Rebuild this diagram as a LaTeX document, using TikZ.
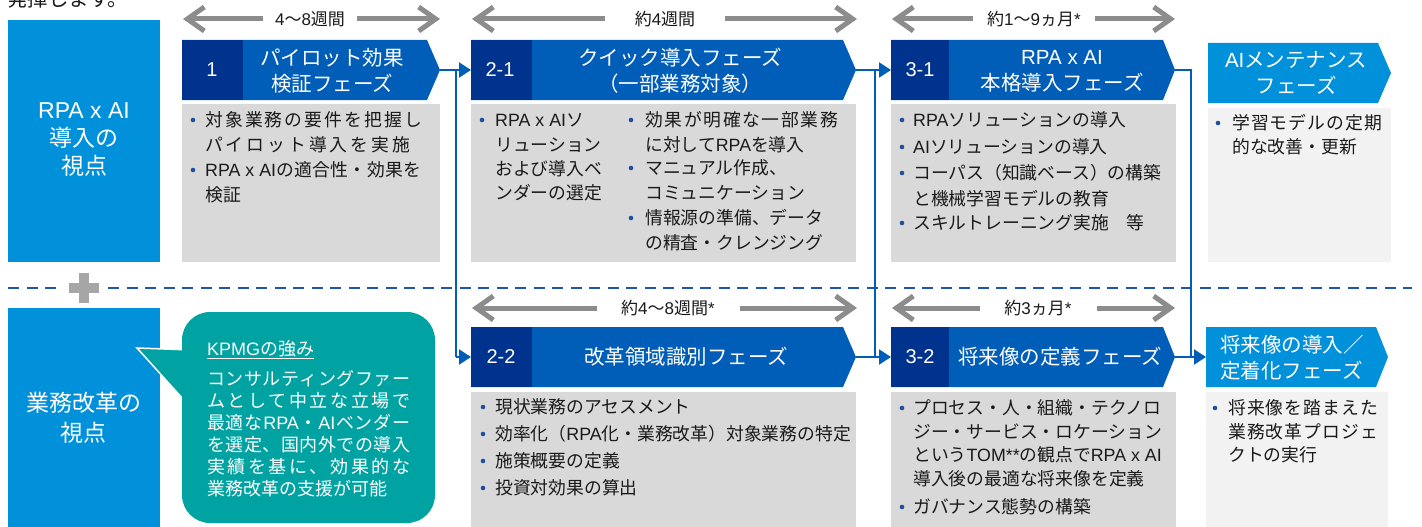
\documentclass[tikz,border=0pt]{standalone}
\usepackage{fontspec}
\setmainfont{Noto Sans CJK JP}
\newfontfamily\lat{Liberation Sans}
\newcommand\lnt[1]{{\lat #1}}
\usetikzlibrary{arrows.meta}
\definecolor{cnavy}{HTML}{00338D}
\definecolor{cblue}{HTML}{005EB8}
\definecolor{clight}{HTML}{0091DA}
\definecolor{cteal}{HTML}{00A3A1}
\definecolor{cbody}{HTML}{D9D9D9}
\definecolor{cbodyl}{HTML}{F2F2F2}
\definecolor{cdur}{HTML}{8C8C8C}
\definecolor{ctxt}{HTML}{1A1A1A}
\definecolor{cbul}{HTML}{1F4E9A}
\definecolor{cdash}{HTML}{1F56A8}
\definecolor{cplus}{HTML}{A6A6A6}
\def\sprB#1#2{#1\ifx\relax#2\else\hfil\expandafter\sprB\fi{#2}}
\newcommand\spr[2]{\makebox[#1][s]{\sprB#2\relax}}
\tikzset{
  hdrtxt/.style={text=white, align=center, inner sep=0pt, font=\fontsize{20.5}{26}\selectfont},
  numtxt/.style={text=white, inner sep=0pt, font=\fontsize{20}{24}\selectfont\lat},
  sidetxt/.style={text=white, align=center, inner sep=0pt, font=\fontsize{23}{#1}\selectfont},
  sidetxt/.default=28,
  btxt/.style={anchor=north west, text=ctxt, align=left, inner sep=0pt, font=\fontsize{17.8}{#1}\selectfont},
  btxt/.default=24.5,
  ktxt/.style={anchor=north west, text=white, align=left, inner sep=0pt, font=\fontsize{18}{22}\selectfont},
  conn/.style={draw=cblue, line width=2.2pt},
  conntip/.style={conn, -{Triangle[length=12pt,width=15pt]}},
  dur/.style={draw=cdur, line width=5pt, {Straight Barb[length=17pt,width=24pt]}-{Straight Barb[length=17pt,width=24pt]}},
  durlbl/.style={fill=white, text=ctxt, inner sep=0pt, minimum height=14pt, font=\fontsize{17}{20}\selectfont},
  dsh/.style={draw=cdash, line width=2.6pt, dash pattern=on 11pt off 7.5pt},
}
\newcommand\bitem[6][24.5]{%
  \node[btxt=#1] (#2) at (#4,{#5-9.3}) {\rule{0pt}{16pt}#6};
  \fill[cbul] (#3,#5) circle (2.3pt);}
\newcommand\chev[6]{\fill[#6] (#1,#4) -- (#2,#4) -- (#3,{(#4+#5)/2}) -- (#2,#5) -- (#1,#5) -- cycle;}
\begin{document}
\begin{tikzpicture}[x=1pt,y=-1pt]
\useasboundingbox (0,0) rectangle (1422,527);
\begin{scope}
\clip (0,0) rectangle (1422,527);
\node[anchor=base west, inner sep=0pt, text=ctxt, font=\fontsize{20.5}{24}\selectfont] (toptxt) at (7,6.5) {発揮します。};
\end{scope}

% side boxes
\fill[clight] (8,20) rectangle (160,262);
\node[sidetxt] (s1) at (84,140) {\lnt{RPA x AI}\\導入の\\視点};
\fill[clight] (8,308) rectangle (160,527);
\node[sidetxt=30] (s2) at (84,418) {業務改革の\\視点};

% dashed separator and plus
\draw[dsh] (8,288) -- (58,288);
\draw[dsh] (108,288) -- (1412,288);
\fill[cplus] (79,273) rectangle (89,303);
\fill[cplus] (69,283) rectangle (99,293);

% duration arrows
\draw[dur] (183,19) -- (440,19);
\node[durlbl, minimum width=94pt] (d1) at (310,19) {\lnt{4}〜\lnt{8}週間};
\draw[dur] (472,19) -- (857,19);
\node[durlbl, minimum width=120pt] (d2) at (665,19) {約\lnt{4}週間};
\draw[dur] (892,19) -- (1175,19);
\node[durlbl, minimum width=122pt] (d3) at (1034,19) {約\lnt{1}〜\lnt{9}ヵ月\lnt{*}};
\draw[dur] (472,308) -- (857,308);
\node[durlbl, minimum width=143pt] (d4) at (668,308) {約\lnt{4}〜\lnt{8}週間\lnt{*}};
\draw[dur] (892,308) -- (1175,308);
\node[durlbl, minimum width=117pt] (d5) at (1038,308) {約\lnt{3}ヵ月\lnt{*}};

% bodies
\fill[cbody] (182,104) rectangle (440,262);
\fill[cbody] (471,104) rectangle (856,262);
\fill[cbody] (891,104) rectangle (1176,262);
\fill[cbodyl] (1208,108) rectangle (1391,262);
\fill[cbody] (471,392) rectangle (856,527);
\fill[cbody] (891,392) rectangle (1176,527);
\fill[cbodyl] (1206,392) rectangle (1388,527);

% headers
\chev{182}{427}{440}{40}{100}{cblue}
\fill[cnavy] (182,40) rectangle (243,100);
\node[numtxt] (n1) at (212,70) {1};
\node[hdrtxt] (h1) at (332,71) {パイロット効果\\検証フェーズ};

\chev{471}{843}{856}{40}{100}{cblue}
\fill[cnavy] (471,40) rectangle (532,100);
\node[numtxt] (n21) at (500,70) {2-1};
\node[hdrtxt] (h21) at (680,71) {クイック導入フェーズ\\（一部業務対象）};

\chev{891}{1163}{1175}{40}{100}{cblue}
\fill[cnavy] (891,40) rectangle (949,100);
\node[numtxt] (n31) at (920,70) {3-1};
\node[hdrtxt] (h31) at (1062,71) {\lnt{RPA x AI}\\本格導入フェーズ};

\chev{1208}{1378}{1391}{43}{103}{clight}
\node[hdrtxt] (hai) at (1296,73) {\lnt{AI}メンテナンス\\フェーズ};

\chev{471}{843}{856}{327}{387}{cblue}
\fill[cnavy] (471,327) rectangle (532,387);
\node[numtxt] (n22) at (501,357) {2-2};
\node[hdrtxt] (h22) at (686,357) {改革領域識別フェーズ};

\chev{891}{1163}{1175}{327}{387}{cblue}
\fill[cnavy] (891,327) rectangle (949,387);
\node[numtxt] (n32) at (920,357) {3-2};
\node[hdrtxt] (h32) at (1060,357) {将来像の定義フェーズ};

\chev{1206}{1376}{1388}{327}{387}{clight}
\node[hdrtxt, align=left] (hfu) at (1292,358) {将来像の導入／\\定着化フェーズ};

% body texts
\bitem[25]{b11}{193}{205}{120}{\spr{217pt}{対象業務の要件を把握し}\\\spr{205pt}{パイロット導入を実施}}
\bitem[25]{b12}{193}{205}{170}{\spr{216pt}{{{\lat RPA x AI}}の適合性・効果を}\\検証}

\bitem[24.3]{b21a}{482}{495}{120}{\lnt{RPA x AI}ソ\\リューション\\および導入ベ\\ンダーの選定}
\bitem[24.3]{b21b}{631}{645}{120}{\spr{193pt}{効果が明確な一部業務}\\に対して\lnt{RPA}を導入}
\bitem[24.3]{b21c}{631}{645}{168}{マニュアル作成、\\コミュニケーション}
\bitem[24.3]{b21d}{631}{645}{218}{情報源の準備、データ\\の精査・クレンジング}

\bitem[25.5]{b31a}{902}{913}{120}{\lnt{RPA}ソリューションの導入}
\bitem[25.5]{b31b}{902}{913}{147}{\lnt{AI}ソリューションの導入}
\bitem[25.5]{b31c}{902}{913}{173}{コーパス（知識ベース）の構築\\と機械学習モデルの教育}
\bitem[25.5]{b31d}{902}{913}{223}{スキルトレーニング実施　等}

\bitem[24]{bai}{1218}{1232}{123}{\spr{150pt}{学習モデルの定期}\\的な改善・更新}

\bitem{b22a}{483}{495}{407}{現状業務のアセスメント}
\bitem{b22b}{483}{495}{434}{効率化（\lnt{RPA}化・業務改革）対象業務の特定}
\bitem{b22c}{483}{495}{461}{施策概要の定義}
\bitem{b22d}{483}{495}{488}{投資対効果の算出}

\bitem[23.5]{b32a}{902}{913}{408}{プロセス・人・組織・テクノロ\\ジー・サービス・ロケーション\\という\lnt{TOM**}の観点で\lnt{RPA x AI}\\導入後の最適な将来像を定義}
\bitem[23.5]{b32b}{902}{913}{507}{ガバナンス態勢の構築}

\bitem[23.5]{bfu}{1215}{1228}{408}{\spr{150pt}{将来像を踏まえた}\\\spr{150pt}{業務改革プロジェ}\\クトの実行}

% connectors
\coordinate (t1) at (440,70);
\coordinate (j1a) at (456,70);
\coordinate (j1b) at (456,357);
\coordinate (e21) at (471,70);
\coordinate (e22) at (471,357);
\coordinate (t21) at (856,70);
\coordinate (t22) at (856,357);
\coordinate (j2a) at (875,70);
\coordinate (j2b) at (875,357);
\coordinate (e31) at (891,70);
\coordinate (e32) at (891,357);
\coordinate (t31) at (1175,70);
\coordinate (t32) at (1175,357);
\coordinate (j3a) at (1191,70);
\coordinate (efu) at (1206,357);
\draw[conn] (t1) -- (j1a) -- (j1b);
\draw[conntip] (j1a) -- (e21);
\draw[conntip] (j1b) -- (e22);
\draw[conn] (t21) -- (j2a) -- (j2b);
\draw[conn] (t22) -- (j2b);
\draw[conntip] (j2a) -- (e31);
\draw[conntip] (j2b) -- (e32);
\draw[conn] (t31) -- (j3a) -- (j3a |- efu);
\draw[conntip] (t32) -- (efu);

% callout
\fill[cteal, draw=white, line width=1.5pt] (137,348) -- (192,350) -- (192,409) -- cycle;
\node[fill=cteal, rounded corners=28pt, minimum width=253pt, minimum height=211pt, inner sep=0pt] (callout) at (308.5,417.5) {};
\node[ktxt] (ktitle) at (207,{348-9.2}) {\rule{0pt}{16pt}\underline{\lnt{KPMG}の強み}};
\node[ktxt] (kbody) at (207,{378-9.2}) {\rule{0pt}{16pt}\spr{203pt}{コンサルティングファー}\\\spr{203pt}{ムとして中立な立場で}\\\spr{203pt}{最適な{{\lat RPA}}・{{\lat AI}}ベンダー}\\\spr{203pt}{を選定、国内外での導入}\\\spr{203pt}{実績を基に、効果的な}\\業務改革の支援が可能};
\end{tikzpicture}
\end{document}
